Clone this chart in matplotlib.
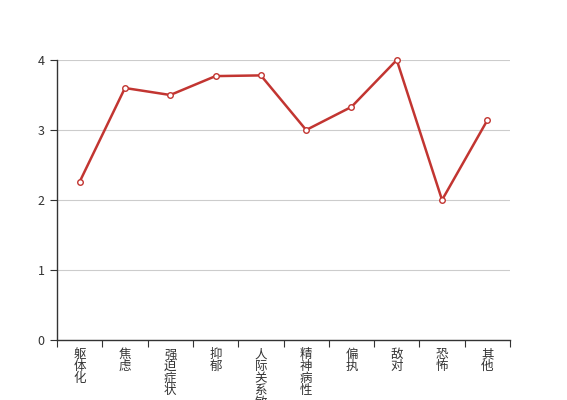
import numpy as np
import matplotlib.pyplot as plt

plt.rcParams['font.family'] = ['Noto Sans CJK SC', 'DejaVu Sans']

categories = ['躯体化', '焦虑', '强迫症状', '抑郁', '人际关系敏感',
              '精神病性', '偏执', '敌对', '恐怖', '其他']
values = [2.26, 3.6, 3.5, 3.77, 3.78, 3.0, 3.33, 4.0, 2.0, 3.14]
y_ticks = [0, 1, 2, 3, 4]

fig = plt.figure(figsize=(5.67, 4.0), dpi=100)
ax = fig.add_axes([57 / 567, 0.15, (510 - 57) / 567, 0.70])

x = np.arange(len(categories))
ax.plot(x, values, color='#c23531', lw=1.8, marker='o', ms=4,
        mfc='white', mec='#c23531', mew=1, zorder=3, clip_on=False)

ax.set_xlim(-0.5, len(categories) - 0.5)
ax.set_ylim(0, 4)
ax.set_yticks(y_ticks)
ax.grid(axis='y', color='#cccccc', lw=0.8)
ax.set_axisbelow(True)

# ticks at category boundaries, labels at centres
ax.set_xticks(np.arange(-0.5, len(categories) + 0.5, 1))
ax.set_xticklabels([])
ax.set_xticks(x, minor=True)
ax.set_xticklabels(['\n'.join(c) for c in categories], minor=True,
                   va='top', linespacing=0.88)
ax.tick_params(axis='x', which='minor', length=0, pad=6,
               labelsize=9, labelcolor='#333333')
ax.tick_params(axis='x', which='major', length=5, color='#333333')
ax.tick_params(axis='y', length=5, color='#333333', labelsize=9,
               labelcolor='#333333', pad=4)

for s in ['top', 'right']:
    ax.spines[s].set_visible(False)
for s in ['left', 'bottom']:
    ax.spines[s].set_color('#333333')
    ax.spines[s].set_linewidth(1)

fig.savefig('out.png', dpi=100)
